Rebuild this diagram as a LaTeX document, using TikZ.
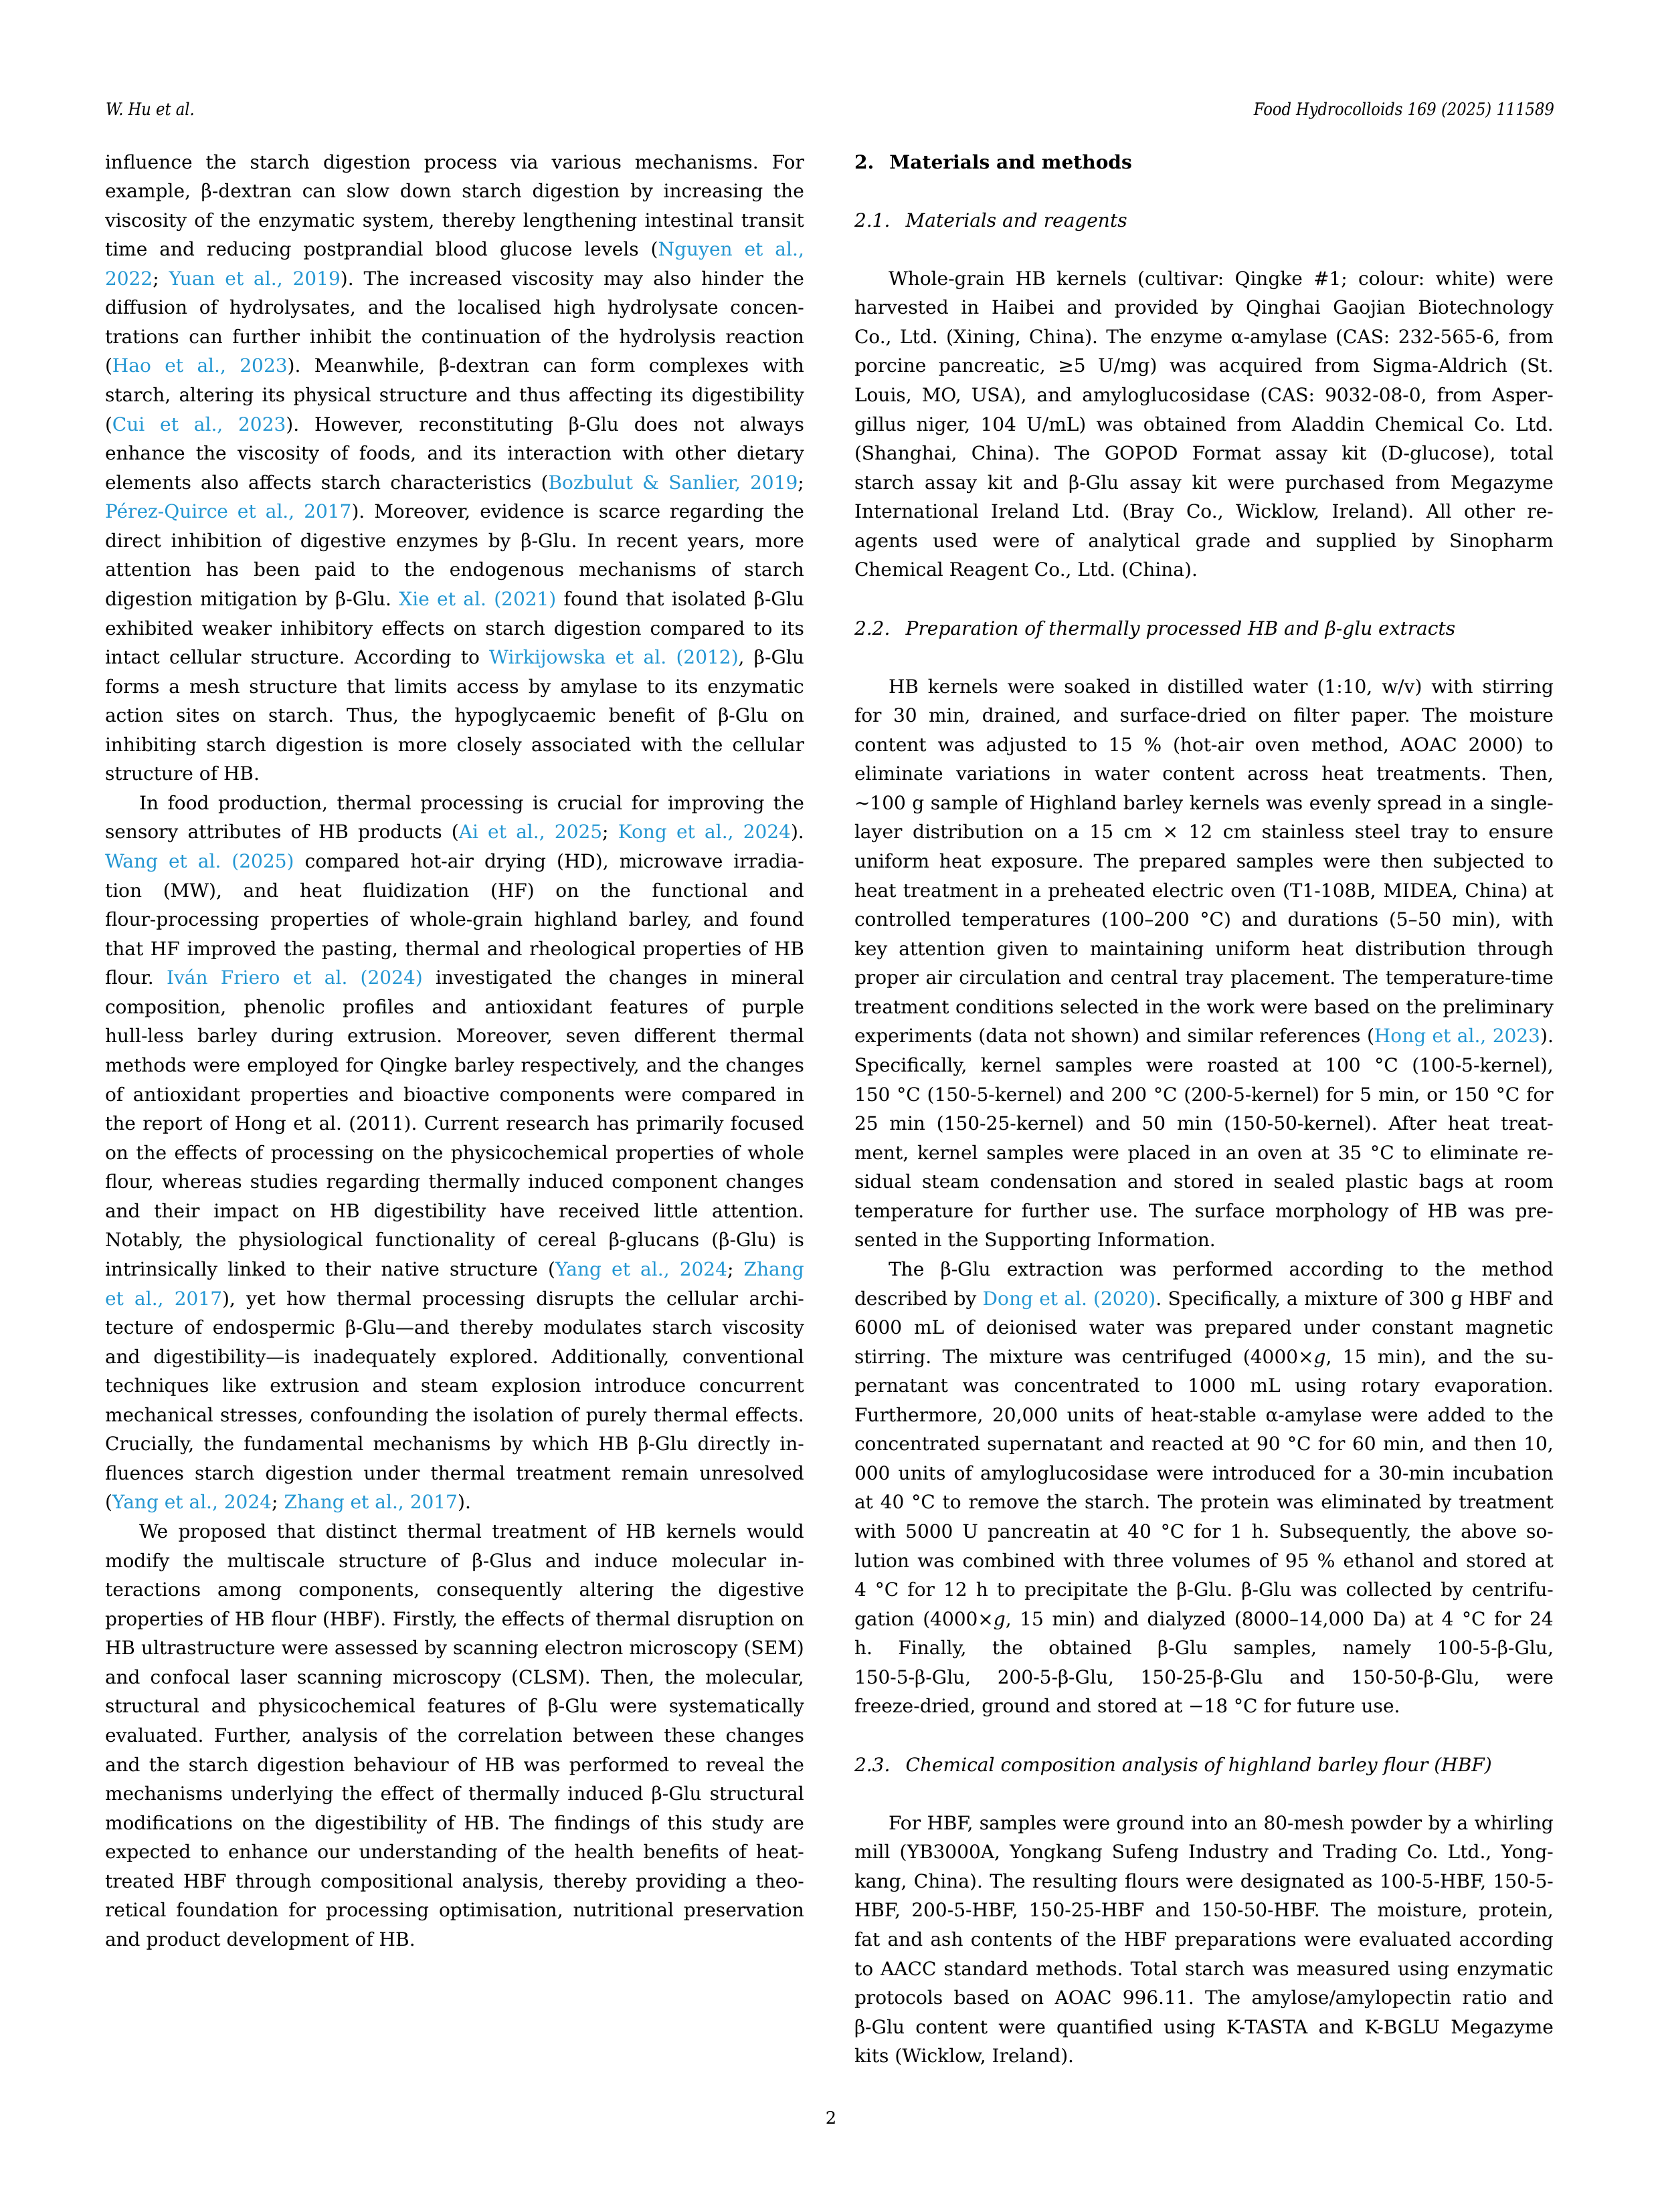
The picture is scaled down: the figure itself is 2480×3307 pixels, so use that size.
\documentclass[tikz,border=0pt]{standalone}
\usepackage{fontspec}
\setmainfont{DejaVu Serif}
\newfontfamily\hdrfont[FakeStretch=0.88]{DejaVu Serif}
\usepackage{xcolor}
\usepackage{graphicx}
\definecolor{linkblue}{RGB}{35,150,210}
\newlength\colw \setlength\colw{251.77pt}
\newlength\lw
\newlength\pind \setlength\pind{12.29pt}
\newcommand\jl[1]{\settowidth{\lw}{#1}\ifdim\lw>\colw\relax\pgfmathsetmacro\sqz{\colw/\lw}\scalebox{\sqz}[1]{#1}\else\makebox[\colw][s]{#1}\fi\par}
\newcommand\fl[1]{\makebox[\colw][l]{#1}\par}
\newcommand\il{\hspace*{\pind}}
\newcommand\bl{\mbox{}\par}
\newcommand\lk[1]{\textcolor{linkblue}{#1}}
\newcommand\colsetup{\fontsize{6.75pt}{10.497pt}\selectfont\frenchspacing\lineskiplimit=-50pt\parindent=0pt\parskip=0pt}
\frenchspacing
\begin{document}
\begin{tikzpicture}[x=0.0084677cm,y=-0.0084677cm,
  txt/.style={inner sep=0pt,outer sep=0pt}]
\useasboundingbox (0,0) rectangle (2480,3307);
\fill[white] (0,0) rectangle (2480,3307);
\node[txt,anchor=base west] (hl) at (158,172) {\hdrfont\fontsize{6.2pt}{7pt}\selectfont\itshape W. Hu et al.};
\node[txt,anchor=base east] (hr) at (2323,172) {\hdrfont\fontsize{6.2pt}{7pt}\selectfont\itshape Food Hydrocolloids 169 (2025) 111589};
\node[txt,anchor=base] (pn) at (1242,3175) {\fontsize{6.2pt}{7pt}\selectfont 2};
\node[txt,anchor=base west] (lcol) at (157,252) {\parbox[t]{\colw}{\colsetup
\jl{influence the starch digestion process via various mechanisms. For}
\jl{example, β-dextran can slow down starch digestion by increasing the}
\jl{viscosity of the enzymatic system, thereby lengthening intestinal transit}
\jl{time and reducing postprandial blood glucose levels (\lk{Nguyen et al.,}}
\jl{\lk{2022}; \lk{Yuan et al., 2019}). The increased viscosity may also hinder the}
\jl{diffusion of hydrolysates, and the localised high hydrolysate concen-}
\jl{trations can further inhibit the continuation of the hydrolysis reaction}
\jl{(\lk{Hao et al., 2023}). Meanwhile, β-dextran can form complexes with}
\jl{starch, altering its physical structure and thus affecting its digestibility}
\jl{(\lk{Cui et al., 2023}). However, reconstituting β-Glu does not always}
\jl{enhance the viscosity of foods, and its interaction with other dietary}
\jl{elements also affects starch characteristics (\lk{Bozbulut \& Sanlier, 2019};}
\jl{\lk{Pérez-Quirce et al., 2017}). Moreover, evidence is scarce regarding the}
\jl{direct inhibition of digestive enzymes by β-Glu. In recent years, more}
\jl{attention has been paid to the endogenous mechanisms of starch}
\jl{digestion mitigation by β-Glu. \lk{Xie et al. (2021)} found that isolated β-Glu}
\jl{exhibited weaker inhibitory effects on starch digestion compared to its}
\jl{intact cellular structure. According to \lk{Wirkijowska et al. (2012)}, β-Glu}
\jl{forms a mesh structure that limits access by amylase to its enzymatic}
\jl{action sites on starch. Thus, the hypoglycaemic benefit of β-Glu on}
\jl{inhibiting starch digestion is more closely associated with the cellular}
\fl{structure of HB.}
\jl{\il In food production, thermal processing is crucial for improving the}
\jl{sensory attributes of HB products (\lk{Ai et al., 2025}; \lk{Kong et al., 2024}).}
\jl{\lk{Wang et al. (2025)} compared hot-air drying (HD), microwave irradia-}
\jl{tion (MW), and heat fluidization (HF) on the functional and}
\jl{flour-processing properties of whole-grain highland barley, and found}
\jl{that HF improved the pasting, thermal and rheological properties of HB}
\jl{flour. \lk{Iván Friero et al. (2024)} investigated the changes in mineral}
\jl{composition, phenolic profiles and antioxidant features of purple}
\jl{hull-less barley during extrusion. Moreover, seven different thermal}
\jl{methods were employed for Qingke barley respectively, and the changes}
\jl{of antioxidant properties and bioactive components were compared in}
\jl{the report of Hong et al. (2011). Current research has primarily focused}
\jl{on the effects of processing on the physicochemical properties of whole}
\jl{flour, whereas studies regarding thermally induced component changes}
\jl{and their impact on HB digestibility have received little attention.}
\jl{Notably, the physiological functionality of cereal β-glucans (β-Glu) is}
\jl{intrinsically linked to their native structure (\lk{Yang et al., 2024}; \lk{Zhang}}
\jl{\lk{et al., 2017}), yet how thermal processing disrupts the cellular archi-}
\jl{tecture of endospermic β-Glu—and thereby modulates starch viscosity}
\jl{and digestibility—is inadequately explored. Additionally, conventional}
\jl{techniques like extrusion and steam explosion introduce concurrent}
\jl{mechanical stresses, confounding the isolation of purely thermal effects.}
\jl{Crucially, the fundamental mechanisms by which HB β-Glu directly in-}
\jl{fluences starch digestion under thermal treatment remain unresolved}
\fl{(\lk{Yang et al., 2024}; \lk{Zhang et al., 2017}).}
\jl{\il We proposed that distinct thermal treatment of HB kernels would}
\jl{modify the multiscale structure of β-Glus and induce molecular in-}
\jl{teractions among components, consequently altering the digestive}
\jl{properties of HB flour (HBF). Firstly, the effects of thermal disruption on}
\jl{HB ultrastructure were assessed by scanning electron microscopy (SEM)}
\jl{and confocal laser scanning microscopy (CLSM). Then, the molecular,}
\jl{structural and physicochemical features of β-Glu were systematically}
\jl{evaluated. Further, analysis of the correlation between these changes}
\jl{and the starch digestion behaviour of HB was performed to reveal the}
\jl{mechanisms underlying the effect of thermally induced β-Glu structural}
\jl{modifications on the digestibility of HB. The findings of this study are}
\jl{expected to enhance our understanding of the health benefits of heat-}
\jl{treated HBF through compositional analysis, thereby providing a theo-}
\jl{retical foundation for processing optimisation, nutritional preservation}
\fl{and product development of HB.}
}};
\node[txt,anchor=base west] (rcol) at (1277,252) {\parbox[t]{\colw}{\colsetup
\fl{\textbf{2.\hspace{5.6pt}Materials and methods}}
\bl
\fl{\textit{2.1.\hspace{5.6pt}Materials and reagents}}
\bl
\jl{\il Whole-grain HB kernels (cultivar: Qingke \#1; colour: white) were}
\jl{harvested in Haibei and provided by Qinghai Gaojian Biotechnology}
\jl{Co., Ltd. (Xining, China). The enzyme α-amylase (CAS: 232-565-6, from}
\jl{porcine pancreatic, ≥5 U/mg) was acquired from Sigma-Aldrich (St.}
\jl{Louis, MO, USA), and amyloglucosidase (CAS: 9032-08-0, from Asper-}
\jl{gillus niger, 104 U/mL) was obtained from Aladdin Chemical Co. Ltd.}
\jl{(Shanghai, China). The GOPOD Format assay kit (D-glucose), total}
\jl{starch assay kit and β-Glu assay kit were purchased from Megazyme}
\jl{International Ireland Ltd. (Bray Co., Wicklow, Ireland). All other re-}
\jl{agents used were of analytical grade and supplied by Sinopharm}
\fl{Chemical Reagent Co., Ltd. (China).}
\bl
\fl{\textit{2.2.\hspace{5.6pt}Preparation of thermally processed HB and β-glu extracts}}
\bl
\jl{\il HB kernels were soaked in distilled water (1:10, w/v) with stirring}
\jl{for 30 min, drained, and surface-dried on filter paper. The moisture}
\jl{content was adjusted to 15 \% (hot-air oven method, AOAC 2000) to}
\jl{eliminate variations in water content across heat treatments. Then,}
\jl{∼100 g sample of Highland barley kernels was evenly spread in a single-}
\jl{layer distribution on a 15 cm × 12 cm stainless steel tray to ensure}
\jl{uniform heat exposure. The prepared samples were then subjected to}
\jl{heat treatment in a preheated electric oven (T1-108B, MIDEA, China) at}
\jl{controlled temperatures (100–200 °C) and durations (5–50 min), with}
\jl{key attention given to maintaining uniform heat distribution through}
\jl{proper air circulation and central tray placement. The temperature-time}
\jl{treatment conditions selected in the work were based on the preliminary}
\jl{experiments (data not shown) and similar references (\lk{Hong et al., 2023}).}
\jl{Specifically, kernel samples were roasted at 100 °C (100-5-kernel),}
\jl{150 °C (150-5-kernel) and 200 °C (200-5-kernel) for 5 min, or 150 °C for}
\jl{25 min (150-25-kernel) and 50 min (150-50-kernel). After heat treat-}
\jl{ment, kernel samples were placed in an oven at 35 °C to eliminate re-}
\jl{sidual steam condensation and stored in sealed plastic bags at room}
\jl{temperature for further use. The surface morphology of HB was pre-}
\fl{sented in the Supporting Information.}
\jl{\il The β-Glu extraction was performed according to the method}
\jl{described by \lk{Dong et al. (2020)}. Specifically, a mixture of 300 g HBF and}
\jl{6000 mL of deionised water was prepared under constant magnetic}
\jl{stirring. The mixture was centrifuged (4000×\textit{g}, 15 min), and the su-}
\jl{pernatant was concentrated to 1000 mL using rotary evaporation.}
\jl{Furthermore, 20,000 units of heat-stable α-amylase were added to the}
\jl{concentrated supernatant and reacted at 90 °C for 60 min, and then 10,}
\jl{000 units of amyloglucosidase were introduced for a 30-min incubation}
\jl{at 40 °C to remove the starch. The protein was eliminated by treatment}
\jl{with 5000 U pancreatin at 40 °C for 1 h. Subsequently, the above so-}
\jl{lution was combined with three volumes of 95 \% ethanol and stored at}
\jl{4 °C for 12 h to precipitate the β-Glu. β-Glu was collected by centrifu-}
\jl{gation (4000×\textit{g}, 15 min) and dialyzed (8000–14,000 Da) at 4 °C for 24}
\jl{h. Finally, the obtained β-Glu samples, namely 100-5-β-Glu,}
\jl{150-5-β-Glu, 200-5-β-Glu, 150-25-β-Glu and 150-50-β-Glu, were}
\fl{freeze-dried, ground and stored at −18 °C for future use.}
\bl
\fl{\textit{2.3.\hspace{5.6pt}Chemical composition analysis of highland barley flour (HBF)}}
\bl
\jl{\il For HBF, samples were ground into an 80-mesh powder by a whirling}
\jl{mill (YB3000A, Yongkang Sufeng Industry and Trading Co. Ltd., Yong-}
\jl{kang, China). The resulting flours were designated as 100-5-HBF, 150-5-}
\jl{HBF, 200-5-HBF, 150-25-HBF and 150-50-HBF. The moisture, protein,}
\jl{fat and ash contents of the HBF preparations were evaluated according}
\jl{to AACC standard methods. Total starch was measured using enzymatic}
\jl{protocols based on AOAC 996.11. The amylose/amylopectin ratio and}
\jl{β-Glu content were quantified using K-TASTA and K-BGLU Megazyme}
\fl{kits (Wicklow, Ireland).}
}};
\end{tikzpicture}
\end{document}
